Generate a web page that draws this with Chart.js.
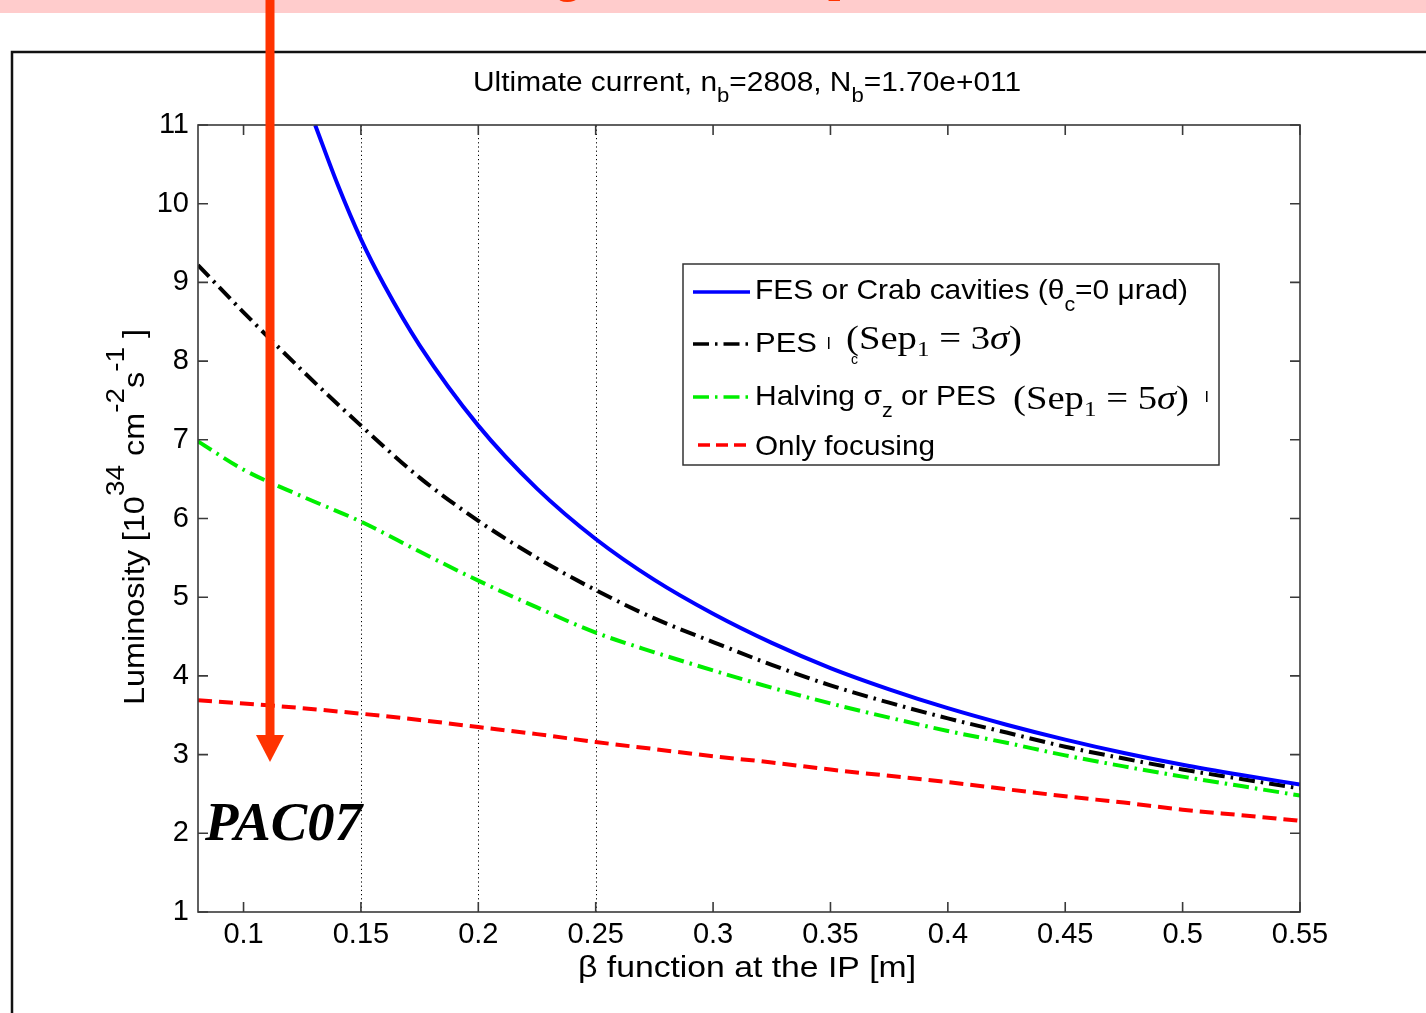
<!DOCTYPE html>
<html>
<head>
<meta charset="utf-8">
<script src="https://cdn.jsdelivr.net/npm/chart.js@4.4.0/dist/chart.umd.min.js"></script>
<style>
  html, body { margin: 0; padding: 0; background: #fff; }
  #wrap { position: relative; width: 1426px; height: 1013px; }
</style>
</head>
<body>
<div id="wrap"><canvas id="lumi" width="1426" height="1013"></canvas></div>
<script>
// values
const betaBlue = [0.1305, 0.14, 0.15, 0.16, 0.175, 0.2, 0.225, 0.25, 0.275, 0.3, 0.325, 0.35, 0.375, 0.4, 0.425, 0.45, 0.475, 0.5, 0.525, 0.55];
const lumBlue  = [11.0, 10.25, 9.55, 8.96, 8.2, 7.18, 6.38, 5.74, 5.22, 4.79, 4.42, 4.10, 3.83, 3.59, 3.38, 3.19, 3.02, 2.87, 2.74, 2.62];

const betaGrid = [0.0806, 0.1, 0.125, 0.15, 0.175, 0.2, 0.225, 0.25, 0.275, 0.3, 0.325, 0.35, 0.375, 0.4, 0.425, 0.45, 0.475, 0.5, 0.525, 0.55];
const lumPes3  = [9.22, 8.62, 7.88, 7.18, 6.52, 5.97, 5.50, 5.09, 4.73, 4.43, 4.14, 3.88, 3.66, 3.46, 3.28, 3.10, 2.95, 2.81, 2.69, 2.57];
const lumPes5  = [6.98, 6.62, 6.28, 5.96, 5.58, 5.21, 4.87, 4.55, 4.30, 4.07, 3.85, 3.65, 3.47, 3.30, 3.15, 2.99, 2.85, 2.72, 2.60, 2.48];
const lumFocus = [3.69, 3.65, 3.59, 3.52, 3.44, 3.35, 3.26, 3.16, 3.07, 2.98, 2.90, 2.81, 2.73, 2.65, 2.56, 2.47, 2.39, 2.30, 2.23, 2.16];

const xTicks = [0.1, 0.15, 0.2, 0.25, 0.3, 0.35, 0.4, 0.45, 0.5, 0.55];
const yTicks = [1, 2, 3, 4, 5, 6, 7, 8, 9, 10, 11];
const dottedAt = [0.15, 0.2, 0.25];

const SANS = '"Liberation Sans", Arial, sans-serif';
const SERIF = '"Liberation Serif", "Times New Roman", serif';
const DASHDOT = [16, 6, 2.5, 6];
const DASHED = [14, 7];

function pairs(xs, ys) {
    return xs.map(function(x, i) { return { x: x, y: ys[i] }; });
}

// draw a row of text pieces, squeezed/stretched to a target width
function drawRich(ctx, parts, x, y, targetWidth) {
    let total = 0;
    parts.forEach(function(p) {
        ctx.font = p.font;
        p.w = ctx.measureText(p.t).width;
        total += p.w;
    });
    const k = targetWidth ? targetWidth / total : 1;
    ctx.save();
    ctx.translate(x, y);
    ctx.scale(k, 1);
    let cx = 0;
    parts.forEach(function(p) {
        ctx.font = p.font;
        ctx.fillStyle = p.color || '#000';
        ctx.textBaseline = 'alphabetic';
        ctx.textAlign = 'left';
        ctx.fillText(p.t, cx, p.dy || 0);
        cx += p.w;
    });
    ctx.restore();
}

const decor = {
    id: 'decor',
    beforeDraw(chart) {
        const ctx = chart.ctx;
        ctx.save();
        // pink band at the very top, with the bottoms of cut-off red letters
        ctx.fillStyle = '#ffcccc';
        ctx.fillRect(0, 0, 1426, 13);
        ctx.fillStyle = '#ff3300';
        ctx.font = 'bold 44px ' + SERIF;
        ctx.textBaseline = 'alphabetic';
        ctx.fillText('g', 557, -7);
        ctx.fillText('p', 828, -8);
        // outer frame
        ctx.strokeStyle = '#111';
        ctx.lineWidth = 2.5;
        ctx.beginPath();
        ctx.moveTo(12, 1013);
        ctx.lineTo(12, 52);
        ctx.lineTo(1426, 52);
        ctx.stroke();
        ctx.restore();
    },
    beforeDatasetsDraw(chart) {
        const ctx = chart.ctx;
        const xs = chart.scales.x, a = chart.chartArea;
        ctx.save();
        ctx.strokeStyle = '#000';
        ctx.lineWidth = 1;
        ctx.setLineDash([1.2, 3]);
        dottedAt.forEach(function(v) {
            const px = Math.round(xs.getPixelForValue(v)) + 0.5;
            ctx.beginPath();
            ctx.moveTo(px, a.bottom);
            ctx.lineTo(px, a.top);
            ctx.stroke();
        });
        ctx.restore();
    },
    afterDatasetsDraw(chart) {
        const ctx = chart.ctx;
        const xs = chart.scales.x, ys = chart.scales.y, a = chart.chartArea;
        ctx.save();
        ctx.strokeStyle = '#3a3a3a';
        ctx.lineWidth = 1.6;
        ctx.strokeRect(a.left, a.top, a.right - a.left, a.bottom - a.top);
        const tl = 10;
        ctx.beginPath();
        xTicks.forEach(function(v) {
            const px = xs.getPixelForValue(v);
            ctx.moveTo(px, a.bottom); ctx.lineTo(px, a.bottom - tl);
            ctx.moveTo(px, a.top); ctx.lineTo(px, a.top + tl);
        });
        yTicks.forEach(function(v) {
            const py = ys.getPixelForValue(v);
            ctx.moveTo(a.left, py); ctx.lineTo(a.left + tl, py);
            ctx.moveTo(a.right, py); ctx.lineTo(a.right - tl, py);
        });
        ctx.stroke();
        ctx.restore();
    },
    afterDraw(chart) {
        const ctx = chart.ctx;
        const f = function(s) { return s + 'px ' + SANS; };

        // title
        drawRich(ctx, [
            { t: 'Ultimate current, n', font: f(27) },
            { t: 'b', font: f(20), dy: 11 },
            { t: '=2808, N', font: f(27) },
            { t: 'b', font: f(20), dy: 11 },
            { t: '=1.70e+011', font: f(27) }
        ], 473, 91, 548);

        // x axis title
        drawRich(ctx, [{ t: '\u03b2 function at the IP [m]', font: f(29) }], 578, 977, 338);

        // y axis title, rotated
        ctx.save();
        ctx.translate(144, 705);
        ctx.rotate(-Math.PI / 2);
        drawRich(ctx, [
            { t: 'Luminosity [10', font: f(29) },
            { t: '34', font: f(25), dy: -20 },
            { t: ' cm', font: f(29) },
            { t: '-2', font: f(25), dy: -20 },
            { t: 's', font: f(29) },
            { t: '-1', font: f(25), dy: -20 },
            { t: ' ]', font: f(29) }
        ], 0, 0, 376);
        ctx.restore();

        // legend
        ctx.save();
        ctx.fillStyle = '#fff';
        ctx.fillRect(683, 264, 536, 201);
        ctx.strokeStyle = '#333';
        ctx.lineWidth = 1.5;
        ctx.strokeRect(683, 264, 536, 201);
        const sample = function(y, color, dash, x0) {
            ctx.beginPath();
            ctx.strokeStyle = color;
            ctx.lineWidth = 3.5;
            ctx.setLineDash(dash);
            ctx.moveTo(x0, y);
            ctx.lineTo(750, y);
            ctx.stroke();
        };
        sample(292, '#0000ff', [], 693);
        sample(344, '#000000', DASHDOT, 693);
        sample(397, '#00ee00', DASHDOT, 693);
        sample(445, '#ff0000', [12, 6], 698);
        ctx.setLineDash([]);
        ctx.restore();

        drawRich(ctx, [
            { t: 'FES or Crab cavities (\u03b8', font: f(28) },
            { t: 'c', font: f(20), dy: 12 },
            { t: '=0 \u03bcrad)', font: f(28) }
        ], 755, 299, 433);
        drawRich(ctx, [{ t: 'PES', font: f(28) }], 755, 352, 62);
        ctx.fillStyle = '#000';
        ctx.fillRect(828, 337, 1.5, 12);
        drawRich(ctx, [
            { t: '(Sep', font: '34px ' + SERIF },
            { t: '1', font: '22px ' + SERIF, dy: 7 },
            { t: ' = 3', font: '34px ' + SERIF },
            { t: '\u03c3', font: 'italic 34px ' + SERIF },
            { t: ')', font: '34px ' + SERIF }
        ], 846, 349, 176);
        drawRich(ctx, [{ t: 'c', font: f(14) }], 851, 364, 7);
        drawRich(ctx, [
            { t: 'Halving \u03c3', font: f(28) },
            { t: 'z', font: f(20), dy: 12 },
            { t: ' or PES', font: f(28) }
        ], 755, 405, 241);
        drawRich(ctx, [
            { t: '(Sep', font: '34px ' + SERIF },
            { t: '1', font: '22px ' + SERIF, dy: 7 },
            { t: ' = 5', font: '34px ' + SERIF },
            { t: '\u03c3', font: 'italic 34px ' + SERIF },
            { t: ')', font: '34px ' + SERIF }
        ], 1013, 409, 176);
        ctx.fillStyle = '#000';
        ctx.fillRect(1206, 391, 1.5, 11);
        drawRich(ctx, [{ t: 'Only focusing', font: f(28) }], 755, 455, 180);

        // PAC07 stamp
        drawRich(ctx, [{ t: 'PAC07', font: 'italic bold 54px ' + SERIF }], 205, 840, 157);

        // red arrow
        ctx.save();
        ctx.fillStyle = '#ff3300';
        ctx.fillRect(265.5, 0, 9, 740);
        ctx.beginPath();
        ctx.moveTo(256, 735);
        ctx.lineTo(284, 735);
        ctx.lineTo(270, 762);
        ctx.closePath();
        ctx.fill();
        ctx.restore();
    }
};

const ctx = document.getElementById('lumi');

new Chart(ctx, {
    type: 'line',
    data: {
        datasets: [
            { label: 'FES or Crab cavities', data: pairs(betaBlue, lumBlue), borderColor: '#0000ff', borderWidth: 4, borderDash: [] },
            { label: 'PES 3 sigma', data: pairs(betaGrid, lumPes3), borderColor: '#000000', borderWidth: 4, borderDash: DASHDOT },
            { label: 'PES 5 sigma', data: pairs(betaGrid, lumPes5), borderColor: '#00ee00', borderWidth: 4, borderDash: DASHDOT },
            { label: 'Only focusing', data: pairs(betaGrid, lumFocus), borderColor: '#ff0000', borderWidth: 4, borderDash: DASHED }
        ]
    },
    options: {
        responsive: false,
        animation: false,
        events: [],
        elements: {
            point: { radius: 0 },
            line: { tension: 0.4, cubicInterpolationMode: 'monotone', fill: false }
        },
        layout: { padding: { left: 0, top: 125, right: 126, bottom: 0 } },
        plugins: {
            legend: { display: false },
            title: { display: false },
            tooltip: { enabled: false }
        },
        scales: {
            x: {
                type: 'linear',
                min: 0.0806,
                max: 0.55,
                grid: { display: false, drawTicks: false },
                border: { display: false },
                afterBuildTicks: function(scale) {
                    scale.ticks = xTicks.map(function(v) { return { value: v }; });
                },
                afterFit: function(scale) {
                    scale.height = 101;
                    scale.paddingLeft = 0;
                    scale.paddingRight = 0;
                },
                ticks: {
                    autoSkip: false,
                    maxRotation: 0,
                    padding: 6,
                    color: '#000',
                    font: { family: SANS, size: 29 },
                    callback: function(v) { return String(v); }
                }
            },
            y: {
                min: 1,
                max: 11,
                grid: { display: false, drawTicks: false },
                border: { display: false },
                afterBuildTicks: function(scale) {
                    scale.ticks = yTicks.map(function(v) { return { value: v }; });
                },
                afterFit: function(scale) {
                    scale.width = 198;
                    scale.paddingTop = 0;
                    scale.paddingBottom = 0;
                },
                ticks: {
                    padding: 9,
                    color: '#000',
                    font: { family: SANS, size: 29 },
                    callback: function(v) { return String(v); }
                }
            }
        }
    },
    plugins: [decor]
});
</script>
</body>
</html>
